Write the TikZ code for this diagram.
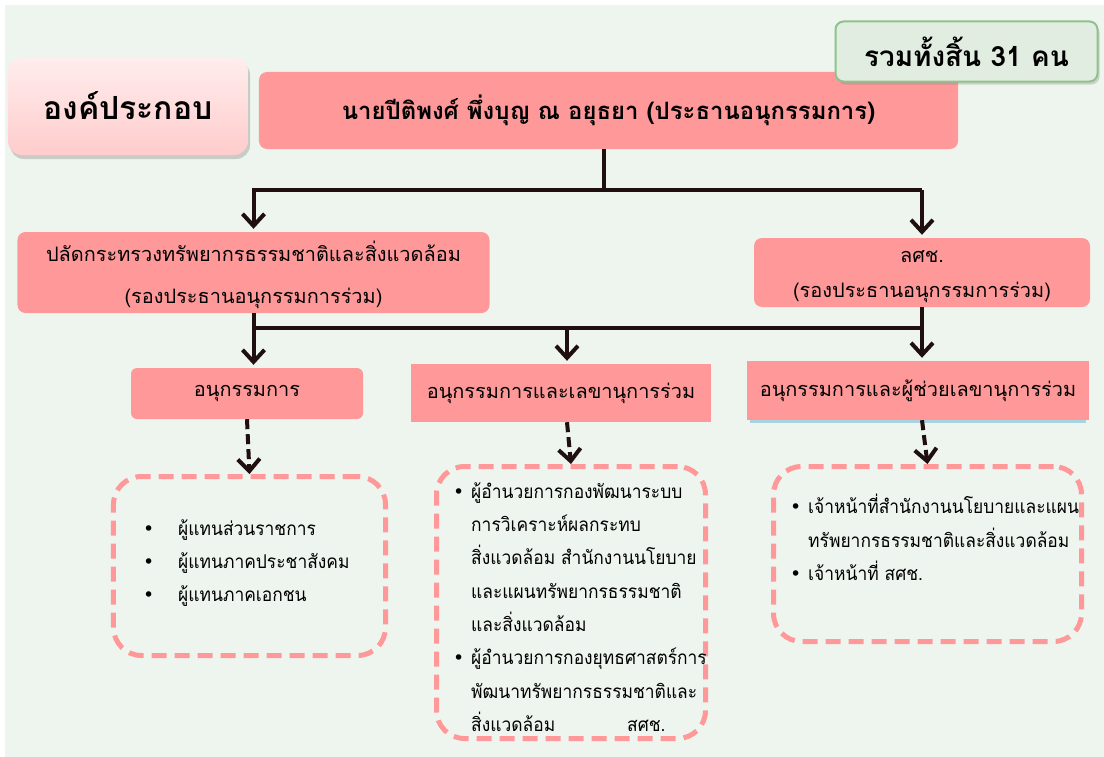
\documentclass[tikz,border=0pt]{standalone}
\usepackage{fontspec}
\newfontfamily\thai[Script=Thai]{Loma}
\newfontfamily\thaiN[Script=Thai,FakeStretch=0.92]{Loma}
\newfontfamily\dv{DejaVu Sans}
\usetikzlibrary{arrows.meta,shadows}
\definecolor{bgc}{HTML}{EEF5EE}
\definecolor{pinkbox}{HTML}{FF9999}
\definecolor{connc}{HTML}{1F0F0F}
\definecolor{totfill}{HTML}{E2EDE2}
\definecolor{totdraw}{HTML}{8FC28C}
\definecolor{gtop}{HTML}{FFEDED}
\definecolor{gbot}{HTML}{FFCCCC}
\definecolor{blueshadow}{HTML}{A9D3DE}
\newcommand{\bulw}[1]{\makebox[#1][l]{\dv\fontsize{19}{19}\selectfont •}}
\newcommand{\lowr}[1]{\raisebox{-4bp}[\height][\depth]{#1}}
\begin{document}
\begin{tikzpicture}[x=1bp,y=-1bp,font=\thai,
  pbox/.style={fill=pinkbox, rounded corners=8bp, inner sep=0pt, align=center},
  sqbox/.style={fill=pinkbox, inner sep=0pt, align=center},
  conn/.style={draw=connc, line width=4bp},
  arr/.style={conn, -{Straight Barb[length=12bp,width=22bp]}},
  darr/.style={arr, dash pattern=on 10bp off 5bp},
  dbox/.style={draw=pinkbox, line width=5bp, dash pattern=on 15bp off 8bp, rounded corners=28bp, inner sep=0pt},
  lvl/.style={font=\thai\fontsize{20}{38}\selectfont},
  lst/.style={font=\thaiN\fontsize{19}{33.5}\selectfont, align=left, inner sep=0pt, anchor=north west},
]
\useasboundingbox (0,0) rectangle (1104,757);
\fill[white] (0,0) rectangle (1104,757);
\fill[bgc] (5,5) rectangle (1104,757);

% top nodes
\node[rounded corners=14bp, top color=gtop, bottom color=gbot, minimum width=240bp, minimum height=98bp,
  drop shadow={shadow xshift=2bp, shadow yshift=-4bp, opacity=0.35},
  font=\thai\bfseries\fontsize{32}{36}\selectfont] (comp) at (128,106) {องค์ประกอบ};
\node[pbox, minimum width=699bp, minimum height=77bp, font=\thai\bfseries\fontsize{24}{28}\selectfont] (title) at (608.5,110.5)
  {นายปีติพงศ์ พึ่งบุญ ณ อยุธยา (ประธานอนุกรรมการ)};
\node[rounded corners=8bp, fill=totfill, draw=totdraw, line width=2bp, minimum width=262bp, minimum height=60bp,
  drop shadow={shadow xshift=2bp, shadow yshift=-3bp, opacity=0.3},
  font=\thai\bfseries\fontsize{28}{32}\selectfont] (total) at (966.5,51.5) {รวมทั้งสิ้น 31 คน};

% second level
\node[pbox, minimum width=472bp, minimum height=81bp, lvl] (pl) at (253.5,272.5)
  {ปลัดกระทรวงทรัพยากรธรรมชาติและสิ่งแวดล้อม\\\lowr{(รองประธานอนุกรรมการร่วม)}};
\node[pbox, minimum width=336bp, minimum height=69bp, font=\thai\fontsize{20}{35}\selectfont] (ls) at (922,272.5)
  {\lowr{ลศช.}\\\lowr{(รองประธานอนุกรรมการร่วม)}};

% third level
\node[pbox, rounded corners=6bp, minimum width=232bp, minimum height=51bp, lvl] (c1) at (247,393.5) {อนุกรรมการ};
\node[sqbox, minimum width=300bp, minimum height=58bp, lvl] (c2) at (561,393) {อนุกรรมการและเลขานุการร่วม};
\node[sqbox, minimum width=342bp, minimum height=59bp, lvl,
  general shadow={fill=blueshadow, shadow yshift=-4bp, shadow scale=0.98}] (c3) at (918,390.5) {อนุกรรมการและผู้ช่วยเลขานุการร่วม};

% dashed boxes
\node[dbox, minimum width=272bp, minimum height=179bp] (d1) at (249.5,566) {};
\node[dbox, minimum width=269bp, minimum height=272bp] (d2) at (571,602.5) {};
\node[dbox, minimum width=308bp, minimum height=175bp] (d3) at (927.5,554) {};

\node[lst] (t1) at (143,519) {\bulw{35bp}ผู้แทนส่วนราชการ\\
\bulw{35bp}ผู้แทนภาคประชาสังคม\\
\bulw{35bp}ผู้แทนภาคเอกชน};
\node[lst] (t2) at (453,482) {\bulw{18bp}ผู้อำนวยการกองพัฒนาระบบ\\
\hspace*{18bp}การวิเคราะห์ผลกระทบ\\
\hspace*{18bp}สิ่งแวดล้อม สำนักงานนโยบาย\\
\hspace*{18bp}และแผนทรัพยากรธรรมชาติ\\
\hspace*{18bp}และสิ่งแวดล้อม\\
\bulw{18bp}ผู้อำนวยการกองยุทธศาสตร์การ\\
\hspace*{18bp}พัฒนาทรัพยากรธรรมชาติและ\\
\hspace*{18bp}\makebox[156bp][l]{สิ่งแวดล้อม}สศช.};
\node[lst] (t3) at (790,494) {\bulw{18bp}เจ้าหน้าที่สำนักงานนโยบายและแผน\\
\hspace*{18bp}ทรัพยากรธรรมชาติและสิ่งแวดล้อม\\
\bulw{18bp}เจ้าหน้าที่ สศช.};

% connectors
\coordinate (jT) at (604,190);
\coordinate (jM) at (567,328);
\draw[conn] (title.south -| jT) -- (jT);
\draw[arr, shorten >=3bp] (ls.north |- jT) -- (pl.north |- jT) -- (pl.north);
\draw[arr, shorten >=3bp] (ls.north |- jT) -- (ls.north);
\draw[conn, line cap=rect] (pl.south |- jM) -- (ls.south |- jM);
\draw[arr, shorten >=3bp] (pl.south) -- (pl.south |- c1.north);
\draw[arr, shorten >=3bp] (jM) -- (jM |- c2.north);
\draw[arr, shorten >=3bp] (ls.south) -- (ls.south |- c3.north);
\draw[darr] (c1.south) -- (d1.north);
\draw[darr] (jM |- c2.south) -- (d2.north);
\draw[darr] (ls.south |- c3.south) -- (d3.north);
\end{tikzpicture}
\end{document}
